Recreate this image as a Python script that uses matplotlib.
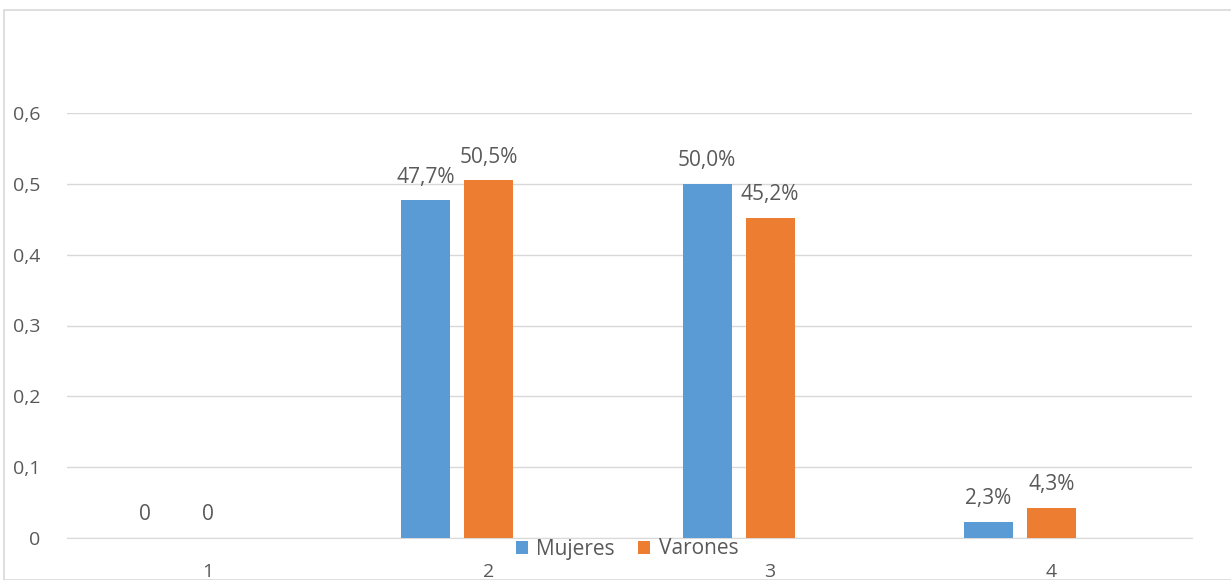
import numpy as np
import matplotlib.pyplot as plt
from matplotlib.patches import Rectangle

categories = ['1', '2', '3', '4']
mujeres = [0.0, 0.477, 0.500, 0.023]
varones = [0.0, 0.505, 0.452, 0.043]
mujeres_labels = ['0', '47,7%', '50,0%', '2,3%']
varones_labels = ['0', '50,5%', '45,2%', '4,3%']
yticks = [0, 0.1, 0.2, 0.3, 0.4, 0.5, 0.6]
ytick_labels = ['0', '0,1', '0,2', '0,3', '0,4', '0,5', '0,6']

plt.rcParams['font.family'] = ['Open Sans', 'DejaVu Sans']
text_color = '#595959'
blue = '#5b9bd5'
orange = '#ed7d31'

fig = plt.figure(figsize=(12.31, 5.80), dpi=100)
ax = fig.add_axes([67 / 1231, 42 / 580, 1125 / 1231, 425 / 580])

# chart frame
fig.patches.append(Rectangle((4 / 1231, 0), 1.0, 570 / 580, transform=fig.transFigure,
                             fill=False, edgecolor='#d9d9d9', linewidth=1.2))

x = np.arange(len(categories))
w = 0.174
off = 0.224
b1 = ax.bar(x - off, mujeres, w, color=blue, label='Mujeres', zorder=3)
b2 = ax.bar(x, varones, w, color=orange, label='Varones', zorder=3)

for bars, labels in [(b1, mujeres_labels), (b2, varones_labels)]:
    for rect, lab in zip(bars, labels):
        ax.annotate(lab, (rect.get_x() + rect.get_width() / 2, rect.get_height()),
                    xytext=(0, 9), textcoords='offset points', ha='center', va='bottom',
                    fontsize=15, color=text_color)

ax.set_xlim(-0.5, 3.5)
ax.set_ylim(0, 0.6)
ax.set_xticks(x)
ax.set_xticklabels(categories)
ax.set_yticks(yticks)
ax.set_yticklabels(ytick_labels)
ax.tick_params(axis='both', length=0, labelsize=14, labelcolor=text_color)
ax.tick_params(axis='x', pad=18)
ax.tick_params(axis='y', pad=19)
ax.grid(axis='y', color='#d9d9d9', linewidth=1, zorder=0)
for s in ['top', 'right', 'left']:
    ax.spines[s].set_visible(False)
ax.spines['bottom'].set_color('#d9d9d9')

fig.legend(loc='center', bbox_to_anchor=(627 / 1231, 1 - 549 / 580), ncol=2, frameon=False,
           fontsize=15, labelcolor=text_color, handlelength=0.6, handleheight=0.6,
           handletextpad=0.4, columnspacing=1.1, borderpad=0)

fig.savefig('out.png', dpi=100)
